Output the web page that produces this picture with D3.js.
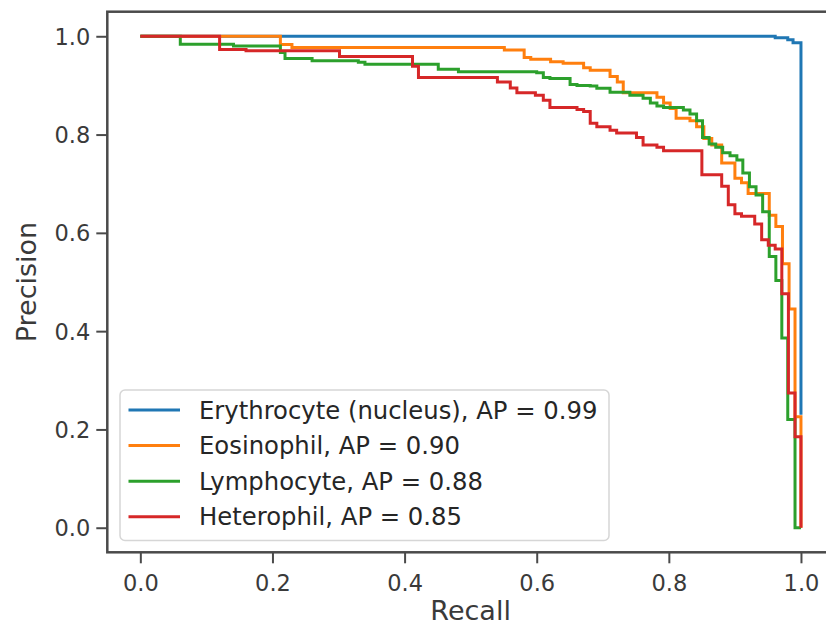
<!DOCTYPE html>
<html>
<head>
<meta charset="utf-8">
<script src="https://cdn.jsdelivr.net/npm/d3@7"></script>
<style>
  html, body { margin: 0; padding: 0; background: #fff; }
  svg { display: block; font-family: "DejaVu Sans", sans-serif; }
</style>
</head>
<body>
<svg id="chart" width="826" height="627"></svg>
<script>
// ---- data (recall, precision), step-post ----
const seriesNames = ["Erythrocyte (nucleus), AP = 0.99", "Eosinophil, AP = 0.90", "Lymphocyte, AP = 0.88", "Heterophil, AP = 0.85"];
const seriesColors = ["#1f77b4", "#ff7f0e", "#2ca02c", "#d62728"];

const erythrocyte = [
  [0, 1.0], [0.961, 0.997], [0.980, 0.993], [0.988, 0.987], [1.0, 0.23]
];
const eosinophil = [
  [0, 1.0], [0.212, 0.9835], [0.2295, 0.977], [0.551, 0.972], [0.581, 0.957], [0.591, 0.953],
  [0.621, 0.948], [0.640, 0.945], [0.671, 0.936], [0.681, 0.931], [0.711, 0.918], [0.722, 0.907],
  [0.731, 0.885], [0.782, 0.876], [0.792, 0.864], [0.802, 0.853], [0.811, 0.833], [0.832, 0.828],
  [0.842, 0.816], [0.853, 0.792], [0.865, 0.779], [0.880, 0.742], [0.900, 0.711], [0.910, 0.702],
  [0.920, 0.680], [0.952, 0.636], [0.962, 0.613], [0.972, 0.537], [0.982, 0.445], [0.991, 0.226],
  [1.0, 0.185], [1.0, 0.0]
];
const lymphocyte = [
  [0, 1.0], [0.0605, 0.984], [0.141, 0.980], [0.212, 0.967], [0.219, 0.955], [0.260, 0.950],
  [0.330, 0.947], [0.340, 0.943], [0.451, 0.933], [0.4815, 0.928], [0.600, 0.926], [0.610, 0.916],
  [0.620, 0.914], [0.6505, 0.902], [0.661, 0.900], [0.681, 0.899], [0.691, 0.894], [0.711, 0.886],
  [0.741, 0.880], [0.761, 0.874], [0.772, 0.864], [0.782, 0.858], [0.792, 0.855], [0.822, 0.850],
  [0.832, 0.842], [0.842, 0.828], [0.851, 0.794], [0.861, 0.781], [0.871, 0.774], [0.8815, 0.763],
  [0.8926, 0.757], [0.903, 0.748], [0.912, 0.722], [0.922, 0.694], [0.932, 0.677], [0.942, 0.643],
  [0.952, 0.552], [0.962, 0.503], [0.971, 0.386], [0.980, 0.220], [0.991, 0.0], [1.0, 0.0]
];
const heterophil = [
  [0, 1.0], [0.120, 0.973], [0.160, 0.9705], [0.3015, 0.959], [0.412, 0.939], [0.421, 0.916],
  [0.5405, 0.907], [0.560, 0.895], [0.570, 0.885], [0.598, 0.880], [0.610, 0.870], [0.620, 0.855],
  [0.661, 0.851], [0.671, 0.847], [0.681, 0.823], [0.691, 0.816], [0.711, 0.809], [0.721, 0.803],
  [0.751, 0.794], [0.761, 0.779], [0.782, 0.774], [0.792, 0.767], [0.850, 0.718], [0.880, 0.695],
  [0.890, 0.657], [0.900, 0.639], [0.910, 0.634], [0.930, 0.618], [0.9405, 0.586], [0.9505, 0.575],
  [0.961, 0.567], [0.971, 0.476], [0.981, 0.274], [0.991, 0.185], [1.0, 0.0]
];
const seriesData = [erythrocyte, eosinophil, lymphocyte, heterophil];
const tickValues = [0.0, 0.2, 0.4, 0.6, 0.8, 1.0];
const xLabel = "Recall";
const yLabel = "Precision";

// ---- layout ----
const svg = d3.select("#chart");
const pL = 107.3, pR = 834, pT = 11.7, pB = 552.3;
const x = d3.scaleLinear().domain([-0.05, 1.05]).range([pL, pR]);
const y = d3.scaleLinear().domain([-0.05, 1.05]).range([pB, pT]);
const axisColor = "#4a4a4a";
const textColor = "#3a3a3a";

// curves
const line = d3.line().x(d => x(d[0])).y(d => y(d[1])).curve(d3.curveStepAfter);
const gLines = svg.append("g");
seriesData.forEach((data, i) => {
  gLines.append("path")
    .attr("d", line(data))
    .attr("fill", "none")
    .attr("stroke", seriesColors[i])
    .attr("stroke-width", 3)
    .attr("stroke-linejoin", "miter");
});

// axes
const fmt = d3.format(".1f");
const xAxis = svg.append("g").attr("transform", `translate(0,${pB})`)
  .call(d3.axisBottom(x).tickValues(tickValues).tickFormat(fmt).tickSize(11).tickPadding(6));
const yAxis = svg.append("g").attr("transform", `translate(${pL},0)`)
  .call(d3.axisLeft(y).tickValues(tickValues).tickFormat(fmt).tickSize(11).tickPadding(6));
[xAxis, yAxis].forEach(g => {
  g.select(".domain").remove();
  g.selectAll(".tick line").attr("stroke", axisColor).attr("stroke-width", 2);
  g.selectAll(".tick text").attr("fill", textColor).style("font-size", "22.5px")
    .style("font-family", "'DejaVu Sans', sans-serif");
});
xAxis.selectAll(".tick text").attr("dy", "0.95em");
yAxis.selectAll(".tick text").attr("dy", "0.36em");

// spines
svg.append("rect")
  .attr("x", pL).attr("y", pT)
  .attr("width", pR - pL).attr("height", pB - pT)
  .attr("fill", "none").attr("stroke", axisColor).attr("stroke-width", 2.5);

// axis labels
svg.append("text")
  .attr("x", (pL + pR) / 2).attr("y", 620)
  .attr("text-anchor", "middle").attr("fill", textColor)
  .style("font-size", "27px").text(xLabel);
svg.append("text")
  .attr("transform", `translate(36,${(pT + pB) / 2}) rotate(-90)`)
  .attr("text-anchor", "middle").attr("fill", textColor)
  .style("font-size", "27px").text(yLabel);

// legend
const lg = svg.append("g");
lg.append("rect")
  .attr("x", 120).attr("y", 390).attr("width", 489).attr("height", 150.5)
  .attr("rx", 5).attr("ry", 5)
  .attr("fill", "rgba(255,255,255,0.8)").attr("stroke", "#d6d6d6").attr("stroke-width", 1.5);
seriesNames.forEach((name, i) => {
  const cy = 410 + i * 35.6;
  lg.append("line")
    .attr("x1", 128.5).attr("x2", 180).attr("y1", cy).attr("y2", cy)
    .attr("stroke", seriesColors[i]).attr("stroke-width", 3);
  lg.append("text")
    .attr("x", 199).attr("y", cy + 8.5)
    .attr("fill", "#262626").style("font-size", "24.3px").text(name);
});
</script>
</body>
</html>
